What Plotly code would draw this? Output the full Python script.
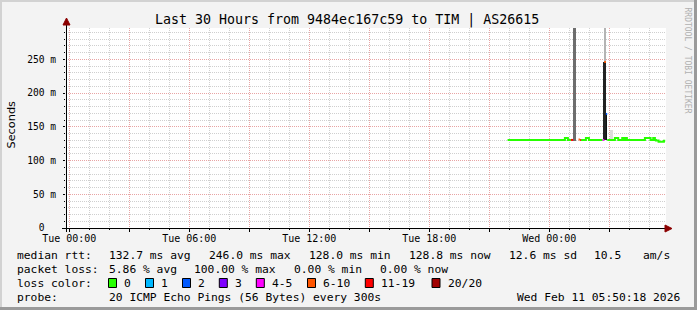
import plotly.graph_objects as go
import pandas as pd

# ---------------- data ----------------
title_text = "Last 30 Hours from 9484ec167c59 to TIM | AS26615"
x_start = "2026-02-09 23:50:18"
x_end = "2026-02-11 05:50:18"
x_tick_times = ["2026-02-10 00:00", "2026-02-10 03:00", "2026-02-10 06:00", "2026-02-10 09:00",
                "2026-02-10 12:00", "2026-02-10 15:00", "2026-02-10 18:00", "2026-02-10 21:00",
                "2026-02-11 00:00", "2026-02-11 03:00"]
x_tick_labels = ["Tue 00:00", "", "Tue 06:00", "", "Tue 12:00", "", "Tue 18:00", "", "Wed 00:00", ""]
y_tick_vals = [0, 50, 100, 150, 200, 250]
y_tick_labels = ["0\u00a0\u00a0", "50 m", "100 m", "150 m", "200 m", "250 m"]
y_max = 296.4

loss_labels = ["0", "1", "2", "3", "4-5", "6-10", "11-19", "20/20"]

# median rtt (ms), each value holds until the next time; None = no data
med_time = ["2026-02-10 21:55", "2026-02-11 00:47", "2026-02-11 00:56", "2026-02-11 01:05",
            "2026-02-11 01:12", "2026-02-11 01:28", "2026-02-11 01:32", "2026-02-11 01:35",
            "2026-02-11 01:50", "2026-02-11 01:59", "2026-02-11 02:40", "2026-02-11 02:45",
            "2026-02-11 02:50", "2026-02-11 02:54", "2026-02-11 03:17", "2026-02-11 03:27",
            "2026-02-11 03:39", "2026-02-11 03:45", "2026-02-11 03:47", "2026-02-11 03:53",
            "2026-02-11 04:47", "2026-02-11 05:04", "2026-02-11 05:12", "2026-02-11 05:17",
            "2026-02-11 05:20", "2026-02-11 05:28", "2026-02-11 05:44"]
med_value = [130.5, 133.5, 130.5, 130.5,
             None, 131.0, 130.5, 130.5,
             133.5, 130.5, 130.5, 246.0,
             169.0, 130.5, 133.5, 130.5,
             133.5, 130.5, 133.5, 130.5,
             133.5, 130.5, 133.5, 130.5,
             129.5, 128.0, 129.3]
med_loss = [0, 0, 0, 6,
            7, 5, 6, 0,
            0, 0, 4, 5,
            2, 0, 0, 0,
            0, 0, 0, 0,
            0, 0, 0, 0,
            0, 0, 0]
med_last = "2026-02-11 05:48"

# smoke (ping spread), ms
smoke_start = ["2026-02-11 01:12", "2026-02-11 02:40", "2026-02-11 02:47", "2026-02-11 02:51", "2026-02-11 03:02"]
smoke_end = ["2026-02-11 01:20", "2026-02-11 02:50", "2026-02-11 02:51", "2026-02-11 02:53", "2026-02-11 03:10"]
smoke_lo = [129.0, 131.0, 246.0, 131.0, 130.0]
smoke_hi = [300.0, 246.0, 300.0, 169.0, 145.0]

stats_rtt = ["median rtt:", "132.7 ms avg", "246.0 ms max", "128.0 ms min", "128.8 ms now", "12.6 ms sd", "10.5", "am/s"]
stats_loss = ["packet loss:", "5.86 % avg", "100.00 % max", "0.00 % min", "0.00 % now"]
probe_text = ["probe:", "20 ICMP Echo Pings (56 Bytes) every 300s", "Wed Feb 11 05:50:18 2026"]

# ---------------- styles ----------------
loss_colors = ["#26ff00", "#00b8ff", "#0059ff", "#7e00ff", "#ff00ff", "#ff5500", "#ff0000", "#a10000"]
smoke_colors = ["#6e6e6e", "#222222", "#b4b4b4", "#111111", "#dcdcdc"]
MONO = "DejaVu Sans Mono"
W, H = 697, 310
L, R, T, B = 66, 31, 28, 82
PW, PH = W - L - R, H - T - B
MAJOR_GRID = "#e8a4a4"
MINOR_GRID = "#cfcfcf"


def px(x):
    return (x - L) / PW


def py(y):
    return (H - B - y) / PH


fig = go.Figure()

# smoke bars
ss = pd.to_datetime(smoke_start)
se = pd.to_datetime(smoke_end)
mid = ss + (se - ss) / 2
widths = [(b - a).total_seconds() * 1000 for a, b in zip(ss, se)]
fig.add_trace(go.Bar(
    x=list(mid), y=[h - l for l, h in zip(smoke_lo, smoke_hi)], base=smoke_lo, width=widths,
    marker=dict(color=smoke_colors, line=dict(width=0)), showlegend=False, hoverinfo="skip"))

# median lines, one trace per loss class
times = list(pd.to_datetime(med_time)) + [pd.to_datetime(med_last)]
for ci, col in enumerate(loss_colors):
    xs, ys = [], []
    i = 0
    n = len(med_value)
    while i < n:
        if med_loss[i] == ci and med_value[i] is not None:
            j = i
            while j < n and med_loss[j] == ci and med_value[j] is not None:
                xs.append(times[j]); ys.append(med_value[j])
                j += 1
            xs.append(times[j]); ys.append(med_value[j - 1])
            xs.append(None); ys.append(None)
            i = j
        else:
            i += 1
    if xs:
        fig.add_trace(go.Scatter(x=xs, y=ys, mode="lines", line=dict(color=col, width=2, shape="hv"),
                                 connectgaps=False, showlegend=False, hoverinfo="skip"))

shapes = []
# frame
shapes.append(dict(type="rect", xref="paper", yref="paper", x0=px(0), x1=px(W), y0=py(0), y1=py(2),
                   fillcolor="#d2d2d2", line=dict(width=0), layer="below"))
shapes.append(dict(type="rect", xref="paper", yref="paper", x0=px(0), x1=px(2), y0=py(0), y1=py(H),
                   fillcolor="#d2d2d2", line=dict(width=0), layer="below"))
shapes.append(dict(type="rect", xref="paper", yref="paper", x0=px(W - 3), x1=px(W), y0=py(0), y1=py(H),
                   fillcolor="#9a9a9a", line=dict(width=0), layer="below"))
shapes.append(dict(type="rect", xref="paper", yref="paper", x0=px(0), x1=px(W), y0=py(H - 3), y1=py(H),
                   fillcolor="#9a9a9a", line=dict(width=0), layer="below"))
# axis lines
shapes.append(dict(type="line", xref="paper", yref="paper", x0=px(62), x1=px(668), y0=py(228.5), y1=py(228.5),
                   line=dict(color="#000000", width=1)))
shapes.append(dict(type="line", xref="paper", yref="paper", x0=px(66.5), x1=px(66.5), y0=py(232), y1=py(22),
                   line=dict(color="#000000", width=1)))
# arrows
shapes.append(dict(type="path", xref="paper", yref="paper",
                   path=f"M {px(66.5)},{py(18)} L {px(63)},{py(25)} L {px(70)},{py(25)} Z",
                   fillcolor="#8b0000", line=dict(color="#8b0000", width=1)))
shapes.append(dict(type="path", xref="paper", yref="paper",
                   path=f"M {px(672)},{py(228.5)} L {px(665)},{py(225)} L {px(665)},{py(232)} Z",
                   fillcolor="#8b0000", line=dict(color="#8b0000", width=1)))

annotations = []
annotations.append(dict(text=title_text, x=px(347), y=py(19.5), xref="paper", yref="paper", showarrow=False,
                        xanchor="center", yanchor="middle", font=dict(family=MONO, size=13.3, color="#000")))
annotations.append(dict(text="Seconds", x=px(10.5), y=py(125), xref="paper", yref="paper", showarrow=False,
                        textangle=-90, xanchor="center", yanchor="middle",
                        font=dict(family="DejaVu Sans", size=11.3, color="#000")))
annotations.append(dict(text="RRDTOOL / TOBI OETIKER", x=px(687.5), y=py(60), xref="paper", yref="paper",
                        showarrow=False, textangle=90, xanchor="center", yanchor="middle",
                        font=dict(family=MONO, size=8, color="#b0b0b0")))

LEG_FONT = dict(family=MONO, size=11.3, color="#000")
rtt_x = [16.4, 107.6, 207.6, 307.6, 407.6, 507.6, 593.3, 642.2]
for t, xx in zip(stats_rtt, rtt_x):
    annotations.append(dict(text=t, x=px(xx), y=py(255), xref="paper", yref="paper", showarrow=False,
                            xanchor="left", yanchor="middle", font=LEG_FONT, borderpad=0))
loss_x = [16.4, 107.6, 192.5, 293.3, 379.0]
for t, xx in zip(stats_loss, loss_x):
    annotations.append(dict(text=t, x=px(xx), y=py(269), xref="paper", yref="paper", showarrow=False,
                            xanchor="left", yanchor="middle", font=LEG_FONT, borderpad=0))
annotations.append(dict(text="loss color:", x=px(16.4), y=py(283), xref="paper", yref="paper", showarrow=False,
                        xanchor="left", yanchor="middle", font=LEG_FONT, borderpad=0))
box_x = [108.5, 145.5, 182.5, 219.3, 256.3, 307.5, 365.3, 432.0]
for lab, col, bx in zip(loss_labels, loss_colors, box_x):
    shapes.append(dict(type="rect", xref="paper", yref="paper", x0=px(bx), x1=px(bx + 8), y0=py(278.5),
                       y1=py(287.5), fillcolor=col, line=dict(color="#000", width=1)))
    annotations.append(dict(text=lab, x=px(bx + 14.5), y=py(283), xref="paper", yref="paper", showarrow=False,
                            xanchor="left", yanchor="middle", font=LEG_FONT, borderpad=0))
annotations.append(dict(text=probe_text[0], x=px(16.4), y=py(297), xref="paper", yref="paper", showarrow=False,
                        xanchor="left", yanchor="middle", font=LEG_FONT, borderpad=0))
annotations.append(dict(text=probe_text[1], x=px(107.6), y=py(297), xref="paper", yref="paper", showarrow=False,
                        xanchor="left", yanchor="middle", font=LEG_FONT, borderpad=0))
annotations.append(dict(text=probe_text[2], x=px(680.5), y=py(297), xref="paper", yref="paper", showarrow=False,
                        xanchor="right", yanchor="middle", font=LEG_FONT, borderpad=0))

fig.update_layout(
    width=W, height=H, margin=dict(l=L, r=R, t=T, b=B, autoexpand=False),
    paper_bgcolor="#f3f3f3", plot_bgcolor="#ffffff", showlegend=False, barmode="overlay", bargap=0,
    shapes=shapes, annotations=annotations,
    xaxis=dict(type="date", range=[x_start, x_end], tickmode="array", tickvals=x_tick_times,
               ticktext=x_tick_labels, showgrid=True, gridcolor=MAJOR_GRID, griddash="1px,1px", gridwidth=1,
               ticks="outside", ticklen=3, tickcolor="#000", showline=False, zeroline=False,
               ticklabelstandoff=-2,
               tickfont=dict(family=MONO, size=10, color="#000"),
               minor=dict(tickmode="linear", tick0="2026-02-10 00:00", dtick=3600000, showgrid=True,
                          gridcolor=MINOR_GRID, griddash="1px,1px", gridwidth=1, ticks="outside", ticklen=1,
                          tickcolor="#000")),
    yaxis=dict(range=[0, y_max], tickmode="array", tickvals=y_tick_vals, ticktext=y_tick_labels,
               showgrid=True, gridcolor=MAJOR_GRID, griddash="1px,1px", gridwidth=1,
               ticks="outside", ticklen=2, tickcolor="#000", showline=False, zeroline=False,
               ticklabelstandoff=5,
               tickfont=dict(family=MONO, size=9.6, color="#000"),
               minor=dict(tickmode="linear", tick0=0, dtick=10, showgrid=True, gridcolor=MINOR_GRID,
                          griddash="1px,1px", gridwidth=1, ticks="outside", ticklen=1, tickcolor="#000")),
)

fig.write_html("out.html")
